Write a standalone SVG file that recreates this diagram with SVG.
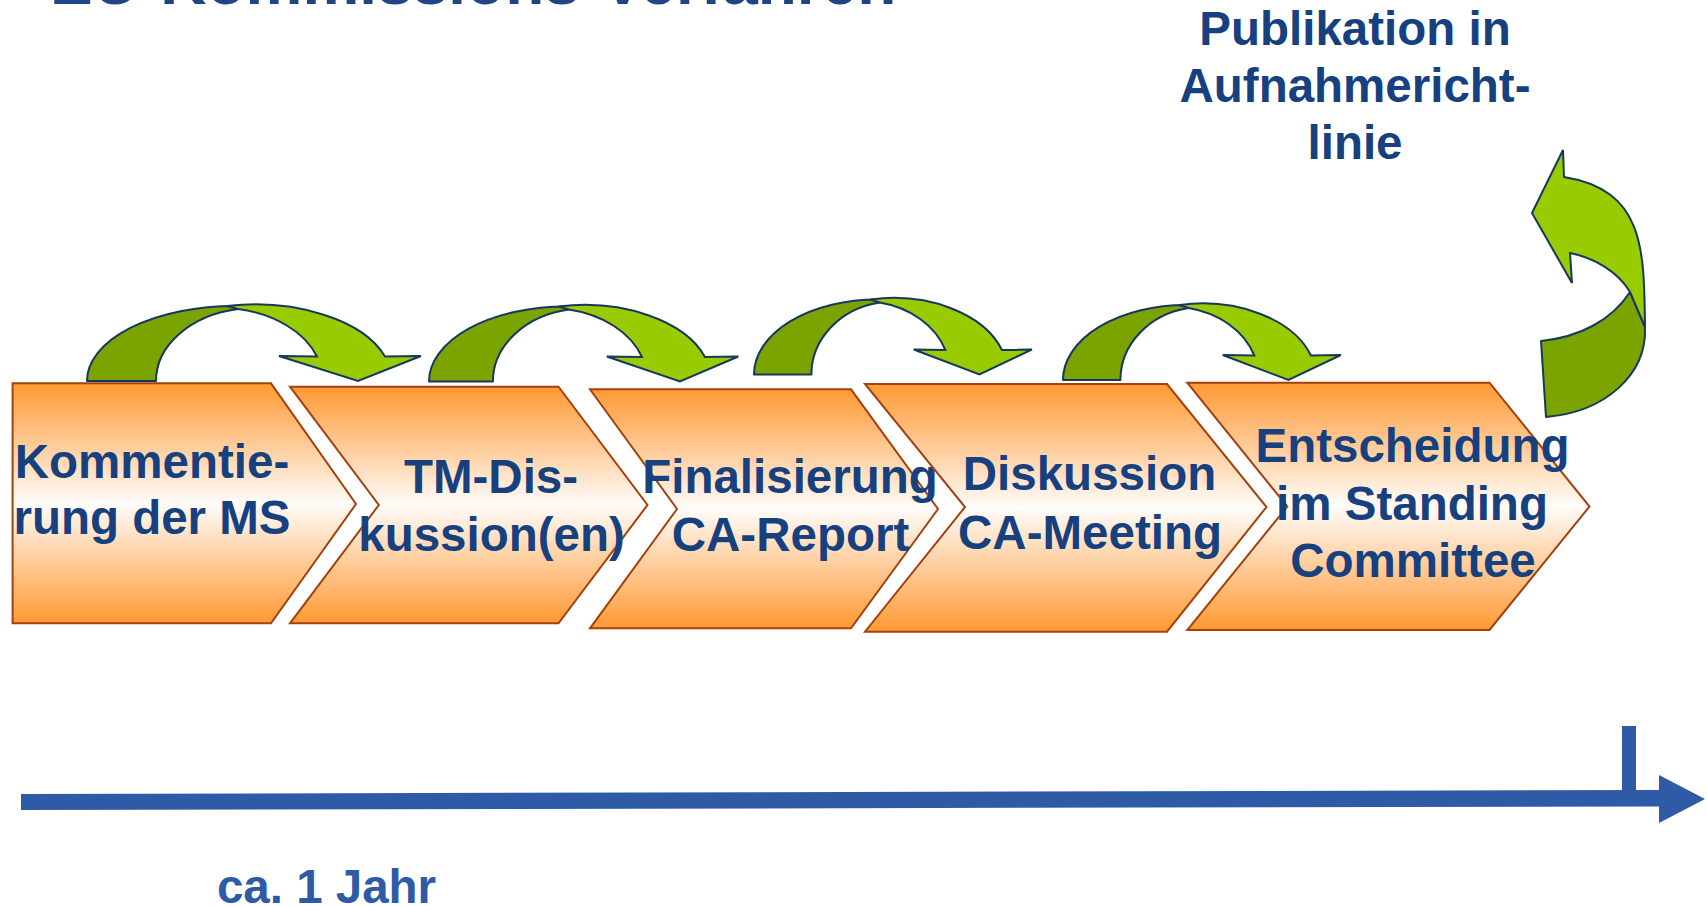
<svg xmlns="http://www.w3.org/2000/svg" xmlns:xlink="http://www.w3.org/1999/xlink" width="1707" height="906" viewBox="0 0 1707 906">
<style>
.box{fill:url(#og);stroke:#A3420E;stroke-width:2;stroke-linejoin:miter}
.dk{fill:#7BA400;stroke:#17375E;stroke-width:2;vector-effect:non-scaling-stroke;stroke-linejoin:round}
.lt{fill:#99CC00;stroke:#17375E;stroke-width:2;vector-effect:non-scaling-stroke;stroke-linejoin:miter}
.t{font-family:"Liberation Sans",Arial,sans-serif;font-weight:bold;font-size:47.5px;fill:#17407F;text-anchor:middle}
.tl{fill:#2E5AA6}
</style>
<defs>
<linearGradient id="og" x1="0" y1="0" x2="0" y2="1">
<stop offset="0" stop-color="#FF9933"/>
<stop offset="0.5" stop-color="#FFFCFA"/>
<stop offset="1" stop-color="#FF9933"/>
</linearGradient>
<g id="curv">
<path class="dk" d="M0,0 A148,75 0 0 1 148,-75 L151,-72 A99,73 0 0 0 69,0 Z"/>
<path class="lt" d="M140,-75 A137,75 0 0 1 298,-24.5 L334,-25 L271,0 L192,-25 L230,-24.5 A105,72 0 0 0 151,-72 Z"/>
</g>
</defs>
<rect width="1707" height="906" fill="#FFFFFF"/>
<text id="title" x="50" y="4" style="font-family:'Liberation Sans',Arial,sans-serif;font-weight:bold;font-size:64px;fill:#1F4585">EU-Kommissions-Verfahren</text>

<g id="step1">
<path class="box" d="M12.6,383.3 L271,383.3 L356,504 L271,623.3 L12.6,623.3 Z"/>
<text class="t" x="152" y="477.5">Kommentie-</text>
<text class="t" x="152" y="533.5">rung der MS</text>
</g>
<g id="step2">
<path class="box" d="M290,386.7 L558.5,386.7 L647.5,505 L558.5,623.3 L290,623.3 L378.8,505 Z"/>
<text class="t" x="491" y="493">TM-Dis-</text>
<text class="t" x="491.5" y="550.5">kussion(en)</text>
</g>
<g id="step3">
<path class="box" d="M590,389.3 L851,389.3 L938,509 L851,628.3 L590,628.3 L677,509 Z"/>
<text class="t" x="790" y="493">Finalisierung</text>
<text class="t" x="790.5" y="550.5">CA-Report</text>
</g>
<g id="step4">
<path class="box" d="M865,384 L1167,384 L1266.5,507 L1167,631.7 L865,631.7 L965,507 Z"/>
<text class="t" x="1089.5" y="489.5">Diskussion</text>
<text class="t" x="1090" y="548.5">CA-Meeting</text>
</g>
<g id="step5">
<path class="box" d="M1187.3,382.7 L1489.5,382.7 L1589.5,506.5 L1489.5,630 L1187.3,630 L1287.3,506.5 Z"/>
<text class="t" x="1412.5" y="462">Entscheidung</text>
<text class="t" x="1412" y="520">im Standing</text>
<text class="t" x="1413" y="577">Committee</text>
</g>
<g id="publikation">
<text class="t" x="1355" y="44.5">Publikation in</text>
<text class="t" x="1355" y="101.5">Aufnahmericht-</text>
<text class="t" x="1355" y="159">linie</text>
</g>

<g id="connectors">
<use xlink:href="#curv" href="#curv" transform="translate(87,381)"/>
<use xlink:href="#curv" href="#curv" transform="translate(429,381.5) scale(0.926,1)"/>
<use xlink:href="#curv" href="#curv" transform="translate(754,374.5) scale(0.832,1)"/>
<use xlink:href="#curv" href="#curv" transform="translate(1063,380) scale(0.832,1)"/>
<g id="uparrow">
<path class="dk" d="M1541,341 C1580,337 1612,320 1630,292 L1645,327 C1647,375 1605,412 1546,417 Z"/>
<path class="lt" d="M1564,177 L1563,150 L1532,213 L1572,283 L1570,253 C1595,258 1618,272 1630,292 L1645,327 C1644,250 1645,190 1564,177 Z"/>
</g>
</g>

<g id="timeline">
<rect x="1622" y="726" width="14" height="66" fill="#2E5AA6"/>
<path d="M21,794 L1659,790 L1659,775 L1705,799 L1659,823 L1659,806.5 L21,810 Z" fill="#2E5AA6"/>
<text class="t tl" x="326.5" y="903">ca. 1 Jahr</text>
</g>
</svg>
